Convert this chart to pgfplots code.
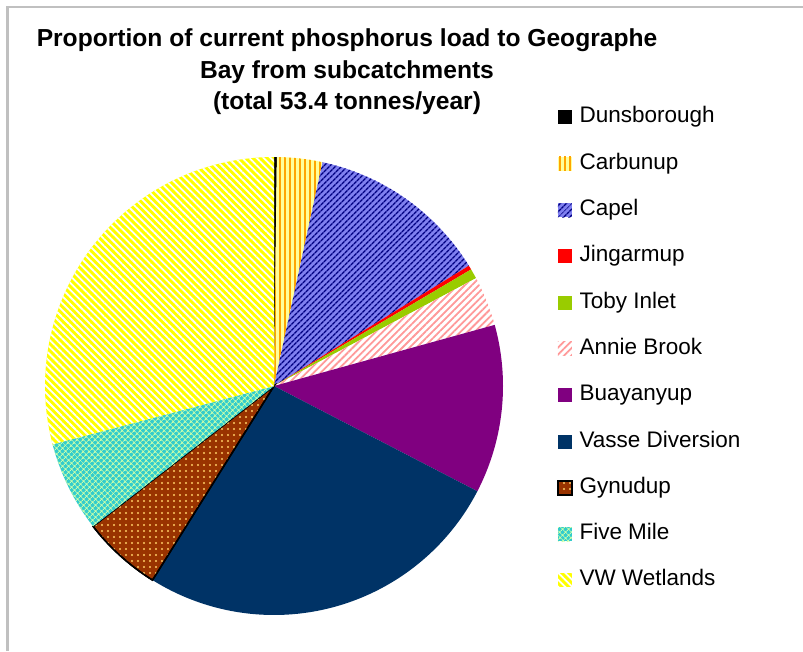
\documentclass[border=0pt]{standalone}
\usepackage{pgfplots}
\pgfplotsset{compat=1.18}
\usepackage{fontspec}
\setmainfont{Liberation Sans}
\usetikzlibrary{patterns.meta}

\definecolor{cbYel}{HTML}{FFFF99}
\definecolor{cbOra}{HTML}{FFA500}
\definecolor{cpBg}{HTML}{8080F0}
\definecolor{cpLn}{HTML}{000080}
\definecolor{jgRed}{HTML}{FF0000}
\definecolor{tbGrn}{HTML}{99CC00}
\definecolor{abPnk}{HTML}{FF9999}
\definecolor{byPur}{HTML}{800080}
\definecolor{vsNav}{HTML}{003366}
\definecolor{gyBrn}{HTML}{993300}
\definecolor{gyDot}{HTML}{FFCC66}
\definecolor{fmTrq}{HTML}{33CCCC}
\definecolor{fmLt}{HTML}{CCFFAA}
\definecolor{vwYel}{HTML}{FFFF00}
\definecolor{frameGr}{HTML}{C0C0C0}

\tikzset{
  sDuns/.style={fill=black, draw=none},
  sCarb/.style={fill=cbYel, draw=none, postaction={pattern={Lines[angle=90,distance=5pt,line width=1.8pt]}, pattern color=cbOra}},
  sCape/.style={fill=cpBg, draw=none, postaction={pattern={Lines[angle=45,distance=4pt,line width=1.4pt]}, pattern color=cpLn}},
  sJing/.style={fill=jgRed, draw=none},
  sToby/.style={fill=tbGrn, draw=none},
  sAnni/.style={fill=white, draw=none, postaction={pattern={Lines[angle=45,distance=5pt,line width=1.8pt]}, pattern color=abPnk}},
  sBuay/.style={fill=byPur, draw=none},
  sVass/.style={fill=vsNav, draw=none},
  sGynu/.style={fill=gyBrn, draw=black, line width=1.5pt, postaction={pattern={Dots[distance=6pt,radius=1.2pt]}, pattern color=gyDot}},
  sFive/.style={fill=fmTrq, draw=none, postaction={pattern={Hatch[angle=45,distance=4pt,line width=1pt]}, pattern color=fmLt}},
  sVWWe/.style={fill=vwYel, draw=none, postaction={pattern={Lines[angle=-45,distance=5pt,line width=1.8pt]}, pattern color=white}},
}

% slice values (percent of 53.4 t/yr), drawn clockwise from 12 o'clock
\gdef\cum{0}
\newcommand\pieslice[2]{%
  \pgfmathsetmacro\sa{90-3.6*\cum}%
  \pgfmathsetmacro\cumnew{\cum+#1}%
  \pgfmathsetmacro\sb{90-3.6*\cumnew}%
  \xdef\cum{\cumnew}%
  \edef\doslice{\noexpand\addplot[#2, forget plot, domain=\sb:\sa, samples=120, variable=\noexpand\t] ({cos(\noexpand\t)},{sin(\noexpand\t)}) -- (axis cs:0,0) -- cycle;}%
  \doslice}

\begin{document}
\begin{tikzpicture}
\path[use as bounding box] (0pt,0pt) rectangle (803pt,651pt);
\draw[frameGr, line width=2.5pt] (7.5pt,0pt) -- (7.5pt,644pt) -- (803pt,644pt);

\node[anchor=base, font=\bfseries\fontsize{24.6}{29}\selectfont] at (347pt,604pt) {Proportion of current phosphorus load to Geographe};
\node[anchor=base, font=\bfseries\fontsize{24.6}{29}\selectfont] at (347pt,572.5pt) {Bay from subcatchments};
\node[anchor=base, font=\bfseries\fontsize{24.6}{29}\selectfont] at (347pt,541pt) {(total 53.4 tonnes/year)};

\begin{axis}[
  at={(274pt,265pt)}, anchor=center,
  width=458pt, height=458pt, scale only axis,
  xmin=-1, xmax=1, ymin=-1, ymax=1,
  axis lines=none, clip=false,
  legend cell align=left,
  legend image code/.code={\fill[#1] (0pt,-7pt) rectangle (14pt,7pt);},
  legend style={at={(1.1179,1.1092)}, anchor=north west, draw=none, fill=none,
    inner sep=0pt, outer sep=0pt, row sep=25.3pt, column sep=7pt,
    font=\fontsize{22.5}{27}\selectfont,
    nodes={inner sep=0pt, text height=16pt, text depth=5pt}},
]
\pieslice{0.2}{sDuns}
\pieslice{3.2}{sCarb}
\pieslice{12.8}{sCape}
\pieslice{0.3}{sJing}
\pieslice{0.7}{sToby}
\pieslice{3.5}{sAnni}
\pieslice{11.9}{sBuay}
\pieslice{26.3}{sVass}
\pieslice{5.6}{sGynu}
\pieslice{6.4}{sFive}
\pieslice{29.1}{sVWWe}

\addlegendimage{sDuns}\addlegendentry{Dunsborough}
\addlegendimage{sCarb}\addlegendentry{Carbunup}
\addlegendimage{sCape}\addlegendentry{Capel}
\addlegendimage{sJing}\addlegendentry{Jingarmup}
\addlegendimage{sToby}\addlegendentry{Toby Inlet}
\addlegendimage{sAnni}\addlegendentry{Annie Brook}
\addlegendimage{sBuay}\addlegendentry{Buayanyup}
\addlegendimage{sVass}\addlegendentry{Vasse Diversion}
\addlegendimage{sGynu}\addlegendentry{Gynudup}
\addlegendimage{sFive}\addlegendentry{Five Mile}
\addlegendimage{sVWWe}\addlegendentry{VW Wetlands}
\end{axis}
\end{tikzpicture}
\end{document}
